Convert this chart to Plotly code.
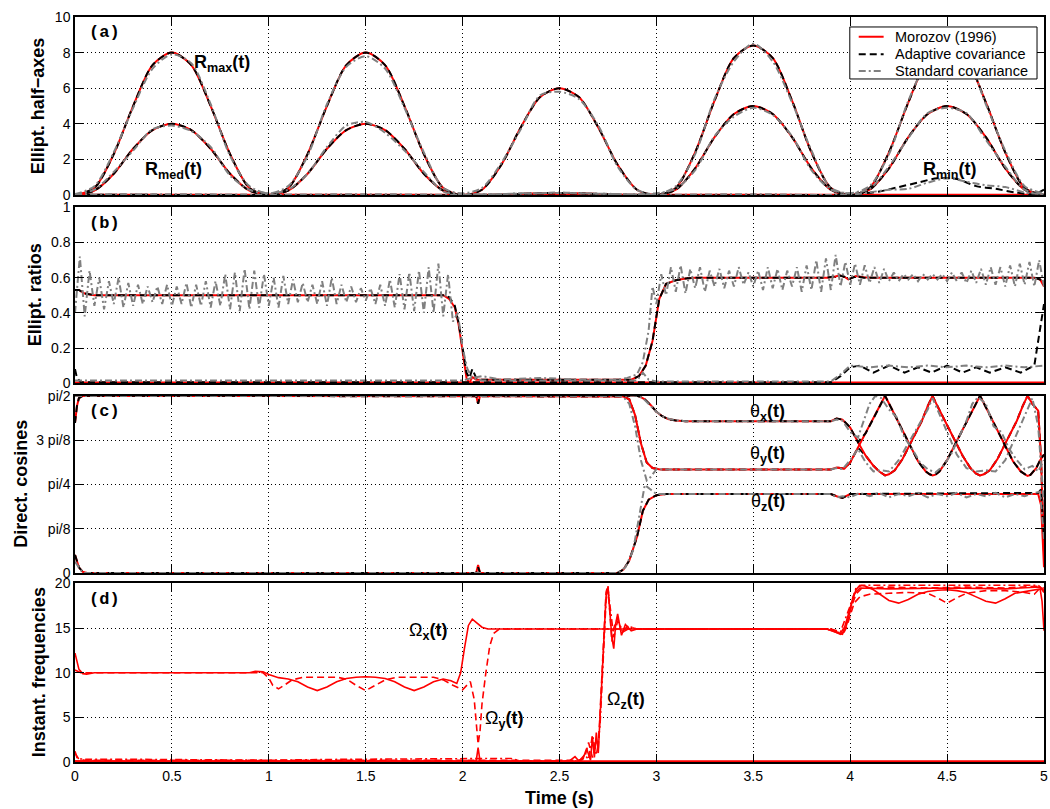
import numpy as np
import plotly.graph_objects as go

PI = np.pi
FONT = "Liberation Sans, Arial, sans-serif"
MONO = "Liberation Mono, Courier New, monospace"
RED, BLACK, GRAY = "#ff0000", "#000000", "#808080"

# ---------------- panel (a): ellipsoid half-axes ----------------
t_a = np.round(np.arange(0, 5.0001, 0.1), 2)
rmax_mor = [0.0, 0.4, 2.3, 5.0, 7.3, 8.0, 7.3, 5.0, 2.3, 0.4,
            0.0, 0.4, 2.3, 5.0, 7.3, 8.0, 7.3, 5.0, 2.3, 0.4,
            0.0, 0.3, 1.7, 3.8, 5.5, 6.0, 5.5, 3.8, 1.7, 0.3,
            0.0, 0.4, 2.4, 5.3, 7.7, 8.4, 7.7, 5.3, 2.4, 0.4,
            0.0, 0.4, 2.4, 5.2, 7.6, 8.3, 7.6, 5.2, 2.4, 0.4, 0.0]
rmed_mor = [0.0, 0.25, 1.2, 2.6, 3.65, 4.0, 3.65, 2.6, 1.2, 0.25,
            0.0, 0.25, 1.2, 2.6, 3.65, 4.0, 3.65, 2.6, 1.2, 0.25,
            0.0, 0.0, 0.02, 0.06, 0.1, 0.12, 0.1, 0.06, 0.02, 0.0,
            0.0, 0.3, 1.5, 3.25, 4.55, 5.0, 4.55, 3.25, 1.5, 0.3,
            0.0, 0.3, 1.5, 3.25, 4.55, 5.0, 4.55, 3.25, 1.5, 0.3, 0.0]
# adaptive covariance coincides with Morozov for the two large half-axes
rmax_ada = list(rmax_mor)
rmed_ada = list(rmed_mor)
rmax_std = [0.05, 0.5, 2.4, 4.9, 7.1, 7.9, 7.4, 5.1, 2.2, 0.5,
            0.1, 0.5, 2.2, 5.1, 7.2, 7.8, 7.1, 4.9, 2.4, 0.4,
            0.1, 0.4, 1.8, 3.7, 5.6, 5.8, 5.4, 3.9, 1.6, 0.3,
            0.05, 0.5, 2.3, 5.4, 7.5, 8.5, 7.5, 5.2, 2.5, 0.4,
            0.1, 0.5, 2.3, 5.3, 7.5, 8.2, 7.7, 5.1, 2.5, 0.5, 0.1]
rmed_std = [0.05, 0.3, 1.3, 2.5, 3.7, 3.9, 3.6, 2.7, 1.1, 0.3,
            0.1, 0.3, 1.2, 2.7, 3.9, 4.1, 3.5, 2.5, 1.3, 0.2,
            0.05, 0.05, 0.05, 0.1, 0.1, 0.15, 0.1, 0.08, 0.05, 0.05,
            0.1, 0.35, 1.4, 3.3, 4.4, 4.9, 4.5, 3.3, 1.4, 0.3,
            0.1, 0.35, 1.6, 3.2, 4.6, 4.9, 4.6, 3.1, 1.6, 0.3, 0.05]
rmin_mor_t = [0.0, 5.0]
rmin_mor = [0.02, 0.02]
rmin_ada_t = [0.0, 3.95, 4.05, 4.15, 4.25, 4.35, 4.45, 4.55, 4.65, 4.75, 4.85, 4.95, 5.0]
rmin_ada = [0.02, 0.02, 0.08, 0.2, 0.45, 0.7, 0.95, 0.9, 0.5, 0.35, 0.15, 0.05, 0.3]
rmin_std_t = [0.0, 0.5, 1.0, 1.5, 2.0, 2.3, 2.5, 2.7, 3.0, 3.5, 4.0, 4.1, 4.2, 4.3, 4.4,
              4.5, 4.6, 4.7, 4.8, 4.9, 5.0]
rmin_std = [0.03, 0.05, 0.02, 0.05, 0.02, 0.08, 0.12, 0.08, 0.02, 0.05, 0.02, 0.15, 0.3,
            0.35, 0.7, 0.95, 0.75, 0.55, 0.45, 0.15, 0.05]

# ---------------- panel (b): ellipticity ratios ----------------
ratio_t = [0, 0.02, 0.05, 0.1, 1.85, 1.9, 1.93, 1.96, 1.98, 2.0,
           2.02, 2.035, 2.05, 2.07, 2.1, 2.87, 2.91, 2.945, 2.98, 3.0,
           3.015, 3.05, 3.1, 3.15, 3.2, 3.88, 3.92, 3.945, 3.97, 3.99,
           4.03, 4.07, 4.12, 4.85, 4.95, 4.98, 5.0]
ratio_mor = [0.53, 0.53, 0.51, 0.50, 0.50, 0.50, 0.48, 0.43, 0.33, 0.18,
             0.03, 0.0, 0.035, 0.02, 0.02, 0.02, 0.04, 0.10, 0.24, 0.38,
             0.48, 0.565, 0.585, 0.595, 0.60, 0.60, 0.605, 0.614, 0.605, 0.59,
             0.61, 0.602, 0.60, 0.60, 0.60, 0.59, 0.55]
ratio_ada = [0.53, 0.53, 0.51, 0.50, 0.50, 0.50, 0.49, 0.44, 0.34, 0.2,
             0.06, 0.03, 0.08, 0.03, 0.02, 0.02, 0.04, 0.10, 0.24, 0.38,
             0.48, 0.565, 0.585, 0.595, 0.60, 0.60, 0.605, 0.612, 0.605, 0.59,
             0.608, 0.60, 0.60, 0.60, 0.60, 0.59, 0.56]
ratio_std_t1 = np.round(np.arange(0, 2.0001, 0.025), 3)
ratio_std_1 = [0.40, 0.72, 0.38, 0.64, 0.44, 0.60, 0.42, 0.58, 0.45, 0.60, 0.43, 0.57,
               0.44, 0.56, 0.45, 0.55, 0.46, 0.55, 0.45, 0.56, 0.44, 0.55, 0.45, 0.57,
               0.43, 0.56, 0.44, 0.58, 0.43, 0.58, 0.44, 0.62, 0.42, 0.63, 0.41, 0.65,
               0.42, 0.64, 0.43, 0.62, 0.44, 0.60, 0.43, 0.61, 0.45, 0.59, 0.46, 0.57,
               0.46, 0.56, 0.45, 0.58, 0.44, 0.60, 0.45, 0.56, 0.46, 0.55, 0.46, 0.54,
               0.47, 0.54, 0.45, 0.56, 0.44, 0.59, 0.43, 0.62, 0.42, 0.63, 0.41, 0.64,
               0.40, 0.66, 0.40, 0.68, 0.38, 0.62, 0.35, 0.40, 0.20]
ratio_std_t2 = [2.025, 2.05, 2.1, 2.2, 2.4, 2.6, 2.8, 2.85, 2.9, 2.93, 2.96, 2.98, 3.0]
ratio_std_2 = [0.08, 0.03, 0.04, 0.02, 0.03, 0.02, 0.02, 0.03, 0.05, 0.12, 0.3, 0.55, 0.45]
ratio_std_t3 = np.round(np.arange(3.025, 5.0001, 0.025), 3)
ratio_std_3 = [0.62, 0.50, 0.66, 0.52, 0.67, 0.51, 0.65, 0.54, 0.66, 0.52, 0.64, 0.55,
               0.65, 0.54, 0.64, 0.55, 0.66, 0.56, 0.63, 0.55, 0.64, 0.53, 0.66, 0.54,
               0.65, 0.53, 0.64, 0.55, 0.66, 0.52, 0.67, 0.53, 0.70, 0.52, 0.71, 0.53,
               0.73, 0.55, 0.69, 0.56, 0.68, 0.56, 0.67, 0.57, 0.66, 0.57, 0.65, 0.58,
               0.63, 0.58, 0.62, 0.59, 0.62, 0.58, 0.62, 0.59, 0.62, 0.59, 0.62, 0.58,
               0.63, 0.58, 0.63, 0.57, 0.64, 0.57, 0.65, 0.56, 0.66, 0.56, 0.66, 0.55,
               0.67, 0.55, 0.68, 0.56, 0.69, 0.55, 0.70, 0.55]
ratio2_mor_t = [0.0, 5.0]
ratio2_mor = [0.004, 0.004]
ratio2_ada_t = [0, 0.01, 0.03, 3.9, 3.95, 4.0, 4.05, 4.12, 4.2, 4.28, 4.35, 4.42, 4.5,
                4.58, 4.65, 4.72, 4.8, 4.88, 4.95, 4.98, 5.0]
ratio2_ada = [0.08, 0.03, 0.005, 0.005, 0.04, 0.09, 0.1, 0.06, 0.1, 0.06, 0.09, 0.06, 0.1,
              0.06, 0.09, 0.06, 0.09, 0.06, 0.1, 0.3, 0.45]
ratio2_std_t = [0, 1.0, 2.0, 2.05, 2.1, 2.9, 2.93, 2.96, 3.0, 3.9, 3.95, 4.0, 4.1, 4.2,
                4.3, 4.4, 4.5, 4.6, 4.7, 4.8, 4.9, 5.0]
ratio2_std = [0.015, 0.015, 0.015, 0.03, 0.015, 0.015, 0.06, 0.02, 0.01, 0.01, 0.05, 0.1,
              0.09, 0.1, 0.09, 0.1, 0.09, 0.1, 0.09, 0.1, 0.09, 0.1]

# ---------------- panel (c): direction angles (rad) ----------------
thx_t = [0, 0.01, 0.02, 0.04, 2.07, 2.08, 2.09, 2.9, 2.92, 2.94,
         2.97, 3.0, 3.03, 3.06, 3.1, 3.15, 3.9, 3.93, 3.96, 4.0,
         4.04, 4.08, 4.12, 4.15, 4.18, 4.2, 4.23, 4.27, 4.32, 4.37,
         4.4, 4.425, 4.45, 4.48, 4.53, 4.58, 4.62, 4.65, 4.67, 4.69,
         4.72, 4.76, 4.81, 4.86, 4.89, 4.915, 4.94, 4.97, 4.985, 5.0]
thx_mor = [1.33, 1.48, 1.55, 1.571, 1.571, 1.50, 1.571, 1.571, 1.56, 1.54,
           1.49, 1.43, 1.39, 1.365, 1.352, 1.346, 1.346, 1.37, 1.36, 1.29,
           1.16, 1.04, 0.95, 0.9, 0.865, 0.875, 0.91, 1.01, 1.18, 1.35,
           1.48, 1.571, 1.48, 1.38, 1.21, 1.04, 0.93, 0.88, 0.865, 0.875,
           0.91, 1.01, 1.18, 1.35, 1.48, 1.571, 1.50, 1.44, 1.0, 0.18]
thy_t = [0, 0.04, 2.8, 2.83, 2.86, 2.89, 2.92, 2.95, 2.98, 3.02,
         3.9, 3.93, 3.95, 3.97, 4.0, 4.04, 4.08, 4.12, 4.15, 4.18,
         4.21, 4.25, 4.3, 4.35, 4.39, 4.41, 4.425, 4.44, 4.46, 4.5,
         4.55, 4.6, 4.64, 4.67, 4.7, 4.74, 4.79, 4.84, 4.88, 4.9,
         4.915, 4.93, 4.96, 4.98, 5.0]
thy_mor = [1.571, 1.571, 1.571, 1.565, 1.54, 1.40, 1.15, 0.98, 0.93, 0.917,
           0.917, 0.935, 0.93, 0.925, 0.98, 1.11, 1.24, 1.37, 1.47, 1.571,
           1.47, 1.33, 1.16, 0.99, 0.90, 0.875, 0.865, 0.872, 0.90, 1.0,
           1.17, 1.34, 1.48, 1.571, 1.47, 1.33, 1.16, 0.99, 0.90, 0.875,
           0.86, 0.87, 0.93, 1.0, 1.05]
thz_t = [0, 0.01, 0.02, 0.04, 0.06, 2.07, 2.08, 2.09, 2.8, 2.83, 2.86, 2.9, 2.93, 2.96,
         3.0, 3.05, 3.9, 3.93, 3.96, 4.0, 4.97, 4.985, 5.0]
thz_mor = [0.16, 0.1, 0.05, 0.01, 0.0, 0.0, 0.07, 0.0, 0.0, 0.03, 0.11, 0.32, 0.55, 0.65,
           0.69, 0.70, 0.70, 0.68, 0.665, 0.70, 0.70, 0.6, 0.05]
thz_ada = [0.16, 0.1, 0.05, 0.01, 0.0, 0.0, 0.05, 0.0, 0.0, 0.03, 0.11, 0.32, 0.55, 0.65,
           0.69, 0.70, 0.70, 0.68, 0.665, 0.70, 0.71, 0.74, 0.3]
thx_std_t = [0, 0.04, 2.9, 2.93, 2.96, 3.0, 3.04, 3.08, 3.15, 3.9,
             3.93, 3.96, 4.0, 4.04, 4.07, 4.1, 4.13, 4.16, 4.2, 4.24,
             4.28, 4.32, 4.36, 4.4, 4.44, 4.48, 4.52, 4.56, 4.6, 4.63,
             4.66, 4.7, 4.74, 4.78, 4.82, 4.86, 4.9, 4.94, 4.97, 5.0]
thx_std = [1.571, 1.571, 1.571, 1.55, 1.5, 1.43, 1.38, 1.36, 1.346, 1.346,
           1.36, 1.35, 1.25, 1.2, 1.35, 1.5, 1.571, 1.55, 1.45, 1.38,
           1.2, 1.1, 0.98, 0.92, 0.89, 0.95, 1.05, 1.2, 1.35, 1.5,
           1.56, 1.5, 1.3, 1.25, 1.1, 1.0, 0.92, 0.95, 0.9, 1.0]
thy_std_t = [0, 0.04, 2.8, 2.83, 2.86, 2.89, 2.92, 2.95, 2.97, 3.0,
             3.04, 3.9, 3.93, 3.96, 4.0, 4.04, 4.08, 4.12, 4.16, 4.2,
             4.25, 4.3, 4.35, 4.4, 4.425, 4.45, 4.5, 4.55, 4.6, 4.65,
             4.7, 4.75, 4.8, 4.85, 4.9, 4.94, 4.97, 5.0]
thy_std = [1.571, 1.571, 1.571, 1.56, 1.5, 1.3, 1.0, 0.82, 0.85, 0.92,
           0.917, 0.917, 0.93, 0.92, 1.0, 1.1, 0.98, 0.9, 0.91, 0.9,
           1.0, 1.15, 1.3, 1.45, 1.55, 1.45, 1.25, 1.05, 0.93, 0.9,
           0.91, 0.9, 1.0, 1.2, 1.4, 1.55, 1.3, 0.6]
thz_std_t = [0, 0.04, 2.8, 2.84, 2.88, 2.91, 2.94, 2.97, 3.0, 3.05, 3.9, 3.93, 3.96,
             4.0, 4.05, 4.1, 4.15, 4.2, 4.25, 4.3, 4.35, 4.4, 4.45, 4.5, 4.55, 4.6,
             4.65, 4.7, 4.75, 4.8, 4.85, 4.9, 4.95, 4.98, 5.0]
thz_std = [0.1, 0.0, 0.0, 0.05, 0.2, 0.5, 0.78, 0.74, 0.70, 0.70, 0.70, 0.67, 0.68,
           0.67, 0.71, 0.68, 0.71, 0.67, 0.70, 0.68, 0.71, 0.67, 0.70, 0.68, 0.71, 0.67,
           0.70, 0.68, 0.71, 0.67, 0.70, 0.68, 0.71, 0.72, 0.3]

# ---------------- panel (d): instantaneous frequencies ----------------
omx_mor_t = [0, 0.01, 0.02, 0.04, 0.06, 0.1, 0.9, 0.93, 0.97, 1.0,
             1.05, 1.1, 1.15, 1.2, 1.25, 1.3, 1.35, 1.4, 1.45, 1.5,
             1.55, 1.6, 1.65, 1.7, 1.75, 1.8, 1.85, 1.9, 1.94, 1.97,
             1.99, 2.01, 2.03, 2.05, 2.07, 2.1, 2.13, 2.2, 3.88, 3.92,
             3.95, 3.97, 3.99, 4.01, 4.03, 4.05, 4.08, 4.12, 4.16, 4.2,
             4.25, 4.3, 4.35, 4.4, 4.45, 4.5, 4.55, 4.6, 4.65, 4.7,
             4.75, 4.8, 4.85, 4.9, 4.95, 4.98, 4.99, 5.0]
omx_mor = [12.2, 11.2, 10.4, 9.9, 9.85, 10.0, 10.0, 10.15, 10.1, 9.8,
           9.45, 9.3, 9.0, 8.4, 8.0, 8.4, 9.0, 9.35, 9.5, 9.55,
           9.5, 9.35, 9.0, 8.4, 8.0, 8.4, 9.0, 9.3, 9.1, 8.8,
           10.0, 12.8, 15.3, 16.0, 15.6, 15.1, 14.9, 14.9, 14.9, 14.6,
           14.3, 14.6, 16.0, 18.0, 19.3, 19.8, 19.7, 19.3, 18.7, 18.1,
           17.8, 18.2, 18.8, 19.1, 19.25, 19.3, 19.2, 19.0, 18.5, 18.0,
           17.8, 18.3, 18.9, 19.1, 19.3, 19.4, 18.0, 14.7]
omy_mor_t = [0, 2.07, 2.08, 2.09, 2.65, 5.0]
omy_mor = [0.1, 0.1, 1.6, 0.1, 0.1, 0.1]
omz_mor_t = [0, 2.55, 2.58, 2.6, 2.62, 2.64, 2.66, 2.67, 2.68, 2.69,
             2.7, 2.71, 2.72, 2.73, 2.74, 2.75, 2.76, 2.77, 2.78, 2.79,
             2.8, 2.82, 2.84, 2.87, 2.9, 3.88, 3.93, 3.96, 3.99, 4.02,
             4.05, 4.2, 4.5, 4.8, 4.98, 5.0]
omz_mor = [0.1, 0.1, 0.6, 0.1, 0.3, 1.5, 0.2, 2.8, 0.5, 3.3,
           1.0, 5.5, 10.0, 14.5, 18.5, 19.6, 17.0, 14.0, 12.7, 15.5,
           16.6, 14.2, 15.4, 14.7, 14.9, 14.9, 14.5, 14.3, 16.5, 18.8,
           19.5, 19.4, 19.5, 19.4, 19.6, 19.0]
omx_ada_t = [0, 0.03, 0.97, 1.0, 1.02, 1.05, 1.08, 1.12, 1.18, 1.35,
             1.4, 1.45, 1.5, 1.55, 1.6, 1.66, 1.85, 1.9, 1.95, 2.0,
             2.02, 2.04, 2.06, 2.07, 2.08, 2.09, 2.1, 2.12, 2.14, 2.16,
             2.19, 3.88, 3.93, 3.96, 3.98, 4.0, 4.02, 4.05, 4.1, 4.2,
             4.3, 4.4, 4.45, 4.5, 4.55, 4.6, 4.7, 4.8, 4.9, 4.95,
             4.98, 5.0]
omx_ada = [10.3, 10.0, 10.0, 9.4, 8.6, 8.2, 8.6, 9.2, 9.5, 9.5,
           9.3, 8.6, 8.0, 8.6, 9.2, 9.5, 9.5, 9.2, 8.6, 8.1,
           8.5, 9.0, 7.0, 4.0, 2.0, 3.5, 6.5, 10.0, 13.0, 14.4,
           14.9, 14.9, 14.6, 14.4, 15.0, 16.5, 17.8, 18.5, 18.8, 18.9,
           19.0, 18.9, 18.4, 17.8, 18.4, 18.9, 19.2, 19.2, 19.0, 18.8,
           19.5, 19.5]
omz_ada_t = [0, 0.02, 0.05, 2.6, 2.63, 2.65, 2.67, 2.69, 2.7, 2.71,
             2.72, 2.73, 2.74, 2.75, 2.76, 2.77, 2.78, 2.8, 2.82, 2.85,
             2.9, 3.9, 3.95, 3.98, 4.0, 4.03, 4.06, 4.2, 4.4, 4.6,
             4.8, 4.97, 5.0]
omz_ada = [1.0, 0.3, 0.2, 0.2, 0.5, 2.2, 0.5, 2.5, 1.5, 6.0,
           11.0, 16.0, 19.0, 19.8, 16.0, 13.5, 15.0, 16.2, 14.5, 15.2,
           14.9, 14.9, 14.4, 15.5, 17.0, 18.8, 19.5, 19.6, 19.5, 19.6,
           19.5, 19.7, 19.2]
om_std_t = [0, 0.01, 0.03, 0.06, 0.3, 0.6, 1.0, 1.4, 1.8, 2.0,
            2.1, 2.2, 2.25, 2.3, 2.6, 2.63, 2.65, 2.67, 2.69, 2.7,
            2.71, 2.72, 2.73, 2.74, 2.75, 2.76, 2.78, 2.8, 2.83, 2.87,
            2.9, 3.9, 3.95, 4.0, 4.03, 4.06, 4.5, 4.97, 5.0]
om_std = [1.2, 0.5, 0.35, 0.3, 0.3, 0.25, 0.2, 0.3, 0.35, 0.4,
          0.45, 0.4, 0.4, 0.1, 0.1, 0.8, 0.3, 3.0, 0.8, 2.0,
          4.5, 9.0, 14.0, 18.0, 19.4, 17.5, 14.0, 15.8, 14.6, 15.1,
          14.9, 14.9, 14.6, 17.5, 19.5, 19.8, 19.8, 19.8, 19.2]

legend_names = ["Morozov (1996)", "Adaptive covariance", "Standard covariance"]
x_tick_vals = [0, 0.5, 1, 1.5, 2, 2.5, 3, 3.5, 4, 4.5, 5]
x_tick_text = ["0", "0.5", "1", "1.5", "2", "2.5", "3", "3.5", "4", "4.5", "5"]
ya_ticks = [0, 2, 4, 6, 8, 10]
yb_ticks = [0, 0.2, 0.4, 0.6, 0.8, 1.0]
yb_text = ["0", "0.2", "0.4", "0.6", "0.8", "1"]
yc_ticks = [0, PI / 8, PI / 4, 3 * PI / 8, PI / 2]
yc_text = ["0", "pi/8", "pi/4", "3 pi/8", "pi/2"]
yd_ticks = [0, 5, 10, 15, 20]

DASH = "7px,4px"
DASHDOT = "7px,3px,2px,3px"

fig = go.Figure()


def add(x, y, n, color, dash="solid", width=2, name=None, shape="linear"):
    sfx = "" if n == 1 else str(n)
    fig.add_trace(go.Scatter(
        x=list(x), y=list(y), mode="lines", name=name or "", showlegend=False,
        hoverinfo="skip",
        line=dict(color=color, width=width, dash=dash, shape=shape, smoothing=0.8),
        xaxis="x" + sfx, yaxis="y" + sfx))


# panel (a)
add(t_a, rmax_mor, 1, RED, name=legend_names[0], shape="spline")
add(t_a, rmed_mor, 1, RED, name=legend_names[0], shape="spline")
add(rmin_mor_t, rmin_mor, 1, RED, name=legend_names[0])
add(t_a, rmax_ada, 1, BLACK, DASH, name=legend_names[1], shape="spline")
add(t_a, rmed_ada, 1, BLACK, DASH, name=legend_names[1], shape="spline")
add(rmin_ada_t, rmin_ada, 1, BLACK, DASH, name=legend_names[1], shape="spline")
add(t_a, rmax_std, 1, GRAY, DASHDOT, name=legend_names[2], shape="spline")
add(t_a, rmed_std, 1, GRAY, DASHDOT, name=legend_names[2], shape="spline")
add(rmin_std_t, rmin_std, 1, GRAY, DASHDOT, name=legend_names[2], shape="spline")

# panel (b)
add(ratio_t, ratio_mor, 2, RED)
add(ratio2_mor_t, ratio2_mor, 2, RED)
add(ratio_t, ratio_ada, 2, BLACK, DASH)
add(ratio2_ada_t, ratio2_ada, 2, BLACK, DASH)
add(list(ratio_std_t1) + ratio_std_t2 + list(ratio_std_t3),
    ratio_std_1 + ratio_std_2 + ratio_std_3, 2, GRAY, DASHDOT)
add(ratio2_std_t, ratio2_std, 2, GRAY, DASHDOT)

# panel (c): adaptive estimates swap the two crossing axes after t = 4 s
ada1_t = [t for t in thx_t if t <= 4.04] + [t for t in thy_t if t > 4.05]
ada1 = [v for t, v in zip(thx_t, thx_mor) if t <= 4.04] + [v for t, v in zip(thy_t, thy_mor) if t > 4.05]
ada2_t = [t for t in thy_t if t <= 4.04] + [t for t in thx_t if t > 4.05]
ada2 = [v for t, v in zip(thy_t, thy_mor) if t <= 4.04] + [v for t, v in zip(thx_t, thx_mor) if t > 4.05]
add(ada2_t, ada2, 3, BLACK, DASH)
add(thx_t, thx_mor, 3, RED)
add(thy_t, thy_mor, 3, RED)
add(thz_t, thz_mor, 3, RED)
add(ada1_t, ada1, 3, BLACK, DASH)
add(thz_t, thz_ada, 3, BLACK, DASH)
add(thx_std_t, thx_std, 3, GRAY, DASHDOT)
add(thy_std_t, thy_std, 3, GRAY, DASHDOT)
add(thz_std_t, thz_std, 3, GRAY, DASHDOT)

# panel (d)
add(omy_mor_t, omy_mor, 4, RED, width=1.6)
add(om_std_t, om_std, 4, RED, DASHDOT, width=1.6)
add(omz_ada_t, omz_ada, 4, RED, DASH, width=1.6)
add(omx_ada_t, omx_ada, 4, RED, DASH, width=1.6)
add(omz_mor_t, omz_mor, 4, RED, width=1.6)
add(omx_mor_t, omx_mor, 4, RED, width=1.6)

# ---------------- layout ----------------
common = dict(showline=True, linecolor="black", linewidth=1.5, mirror="ticks",
              ticks="inside", ticklen=8, tickwidth=1, tickcolor="black",
              showgrid=True, gridcolor="black", gridwidth=1, griddash="1px,3px",
              zeroline=False, tickfont=dict(family=FONT, size=14, color="black"))
domains = {1: [0.761, 1.0], 2: [0.5085, 0.7445], 3: [0.2538, 0.4915], 4: [0.0, 0.2396]}
ycfg = {1: dict(range=[0, 10], tickvals=ya_ticks),
        2: dict(range=[0, 1], tickvals=yb_ticks, ticktext=yb_text),
        3: dict(range=[0, PI / 2], tickvals=yc_ticks, ticktext=yc_text),
        4: dict(range=[0, 20], tickvals=yd_ticks)}
lay = {}
for n in range(1, 5):
    sfx = "" if n == 1 else str(n)
    lay["xaxis" + sfx] = dict(common, domain=[0, 1], anchor="y" + sfx, range=[0, 5],
                              tickvals=x_tick_vals, ticktext=x_tick_text,
                              showticklabels=(n == 4), ticklabeloverflow="allow")
    if n > 1:
        lay["xaxis" + sfx]["matches"] = "x"
    lay["yaxis" + sfx] = dict(common, domain=domains[n], anchor="x" + sfx, **ycfg[n])

ann = []
TITLE_F = dict(family=FONT, size=18, color="black")
for txt, xp, yp in [("<b>Ellipt. half−axes</b>", -0.038, 0.8805),
                    ("<b>Ellipt. ratios</b>", -0.041, 0.6268),
                    ("<b>Direct. cosines</b>", -0.056, 0.3732),
                    ("<b>Instant. frequencies</b>", -0.037, 0.1208)]:
    ann.append(dict(text=txt, x=xp, y=yp, xref="paper", yref="paper", textangle=-90,
                    showarrow=False, font=TITLE_F, xanchor="center", yanchor="middle"))
ann.append(dict(text="<b>Time (s)</b>", x=0.5005, y=-0.0483, xref="paper", yref="paper",
                showarrow=False, font=TITLE_F, xanchor="center", yanchor="middle"))
for n, tag in [(1, "(a)"), (2, "(b)"), (3, "(c)"), (4, "(d)")]:
    sfx = "" if n == 1 else str(n)
    ann.append(dict(text="<b>" + tag + "</b>", x=0.012, y=0.975, xref="x" + sfx + " domain",
                    yref="y" + sfx + " domain", xanchor="left", yanchor="top",
                    showarrow=False, font=dict(family=MONO, size=17, color="black")))
LBL = dict(family=FONT, size=18, color="black")
labels = [(1, 0.76, 7.4, "<b>R<sub>max</sub>(t)</b>"),
          (1, 0.51, 1.4, "<b>R<sub>med</sub>(t)</b>"),
          (1, 4.51, 1.4, "<b>R<sub>min</sub>(t)</b>"),
          (3, 3.575, 1.426, "θ<b><sub>x</sub>(t)</b>"),
          (3, 3.575, 1.053, "θ<b><sub>y</sub>(t)</b>"),
          (3, 3.575, 0.627, "θ<b><sub>z</sub>(t)</b>"),
          (4, 1.824, 14.65, "Ω<b><sub>x</sub>(t)</b>"),
          (4, 2.212, 4.8, "Ω<b><sub>y</sub>(t)</b>"),
          (4, 2.842, 6.9, "Ω<b><sub>z</sub>(t)</b>")]
for n, xv, yv, txt in labels:
    sfx = "" if n == 1 else str(n)
    ann.append(dict(text=txt, x=xv, y=yv, xref="x" + sfx, yref="y" + sfx, showarrow=False,
                    font=LBL, xanchor="center", yanchor="middle"))

# compact legend box (drawn like the MATLAB legend)
shapes = [dict(type="rect", xref="paper", yref="paper", x0=0.7996, x1=0.9928,
               y0=0.9168, y1=0.9866, line=dict(color="black", width=1),
               fillcolor="white", layer="above")]
leg_rows = [(0.9735, RED, "solid"), (0.950, BLACK, DASH), (0.9275, GRAY, DASHDOT)]
for (yr, col, dsh), nm in zip(leg_rows, legend_names):
    shapes.append(dict(type="line", xref="paper", yref="paper", x0=0.8088, x1=0.8345,
                       y0=yr, y1=yr, line=dict(color=col, width=2, dash=dsh), layer="above"))
    ann.append(dict(text=nm, x=0.8438, y=yr, xref="paper", yref="paper", showarrow=False,
                    xanchor="left", yanchor="middle",
                    font=dict(family=FONT, size=14.5, color="black")))

fig.update_layout(
    width=1050, height=809,
    margin=dict(l=75, r=2, t=17, b=47),
    paper_bgcolor="white", plot_bgcolor="white",
    font=dict(family=FONT, color="black"),
    showlegend=False,
    annotations=ann,
    shapes=shapes,
    **lay,
)

fig.write_html("out.html", config={"displayModeBar": False},
               post_script="document.body.style.margin='0';document.body.style.overflow='hidden';")
